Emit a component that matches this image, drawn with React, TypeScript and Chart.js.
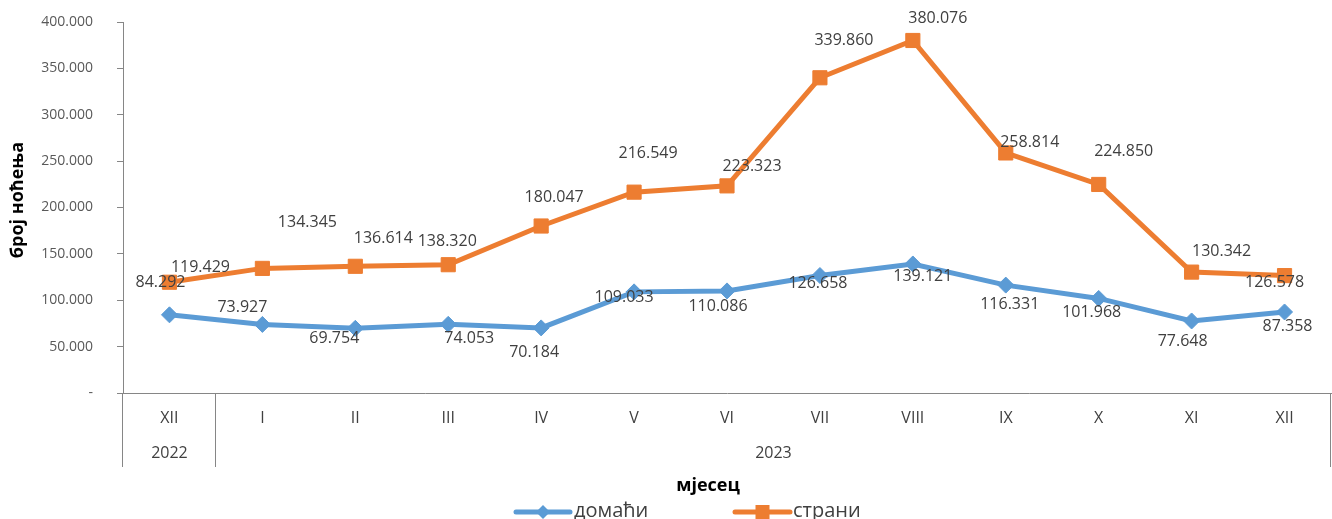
import React, { useEffect, useRef } from 'react';
import { Chart, registerables } from 'chart.js';

Chart.register(...registerables);

const months = ['XII', 'I', 'II', 'III', 'IV', 'V', 'VI', 'VII', 'VIII', 'IX', 'X', 'XI', 'XII'];
const yearLabels = ['2022', '2023'];
const yearMonthCounts = [1, 12];
const domaci = [84292, 73927, 69754, 74053, 70184, 109033, 110086, 126658, 139121, 116331, 101968, 77648, 87358];
const strani = [119429, 134345, 136614, 138320, 180047, 216549, 223323, 339860, 380076, 258814, 224850, 130342, 126578];
const seriesNames = ['домаћи', 'страни'];
const yTitle = 'број ноћења';
const xTitle = 'мјесец';

// label placement offsets (style only)
const domaciLabelOffsets = [[-9, -32], [-20, -17], [-21, 10], [21, 14], [-7, 25], [-10, 6], [-9, 16], [-2, 8], [10, 12], [4, 19], [-7, 14], [-9, 20], [3, 14]];
const straniLabelOffsets = [[31, -15], [45, -46], [28, -28], [-1, -23], [13, -29], [14, -39], [25, -19], [24, -37], [25, -22], [24, -11], [25, -33], [30, -21], [-10, 7]];

const BLUE = '#5B9BD5';
const ORANGE = '#ED7D31';
const AXIS = '#868686';
const TEXT = '#404040';
const FONT = '"Open Sans", "Noto Sans", sans-serif';

Chart.defaults.font.family = FONT;

const fmt = (v: number) => {
  if (v === 0) return '-';
  return Math.round(v).toString().replace(/\B(?=(\d{3})+(?!\d))/g, '.');
};

const decorPlugin = {
  id: 'decor',
  afterDatasetsDraw(chart: any) {
    const ctx = chart.ctx;
    const offs = [domaciLabelOffsets, straniLabelOffsets];
    ctx.save();
    ctx.font = `16px ${FONT}`;
    ctx.fillStyle = TEXT;
    ctx.textAlign = 'center';
    ctx.textBaseline = 'middle';
    chart.data.datasets.forEach((ds: any, di: number) => {
      const meta = chart.getDatasetMeta(di);
      meta.data.forEach((pt: any, i: number) => {
        const o = offs[di][i];
        ctx.fillText(fmt(ds.data[i]), pt.x + o[0], pt.y + o[1]);
      });
    });
    ctx.restore();
  },
  afterDraw(chart: any) {
    const ctx = chart.ctx;
    const area = chart.chartArea;
    const bottom = area.bottom + 74;
    const catW = (area.right - area.left) / months.length;
    ctx.save();
    ctx.strokeStyle = AXIS;
    ctx.lineWidth = 1;
    let idx = 0;
    const bounds: number[] = [area.left];
    yearMonthCounts.forEach((c) => {
      idx += c;
      bounds.push(area.left + catW * idx);
    });
    bounds.forEach((bx) => {
      const x = Math.round(bx) - 0.5;
      ctx.beginPath();
      ctx.moveTo(x, area.bottom);
      ctx.lineTo(x, bottom);
      ctx.stroke();
    });
    ctx.font = `16px ${FONT}`;
    ctx.fillStyle = TEXT;
    ctx.textAlign = 'center';
    ctx.textBaseline = 'middle';
    yearLabels.forEach((lab, k) => {
      ctx.fillText(lab, (bounds[k] + bounds[k + 1]) / 2, area.bottom + 60);
    });
    ctx.font = `bold 18px ${FONT}`;
    ctx.fillStyle = '#000000';
    ctx.fillText(xTitle, 708, 486);
    ctx.save();
    ctx.translate(18, 200);
    ctx.rotate(-Math.PI / 2);
    ctx.fillText(yTitle, 0, 0);
    ctx.restore();
    const items = [
      { name: seriesNames[0], color: BLUE, style: 'diamond', x0: 516, x1: 570, tx: 574 },
      { name: seriesNames[1], color: ORANGE, style: 'square', x0: 735, x1: 790, tx: 793 },
    ];
    const ly = 512;
    items.forEach((it) => {
      ctx.strokeStyle = it.color;
      ctx.lineWidth = 5;
      ctx.lineCap = 'round';
      ctx.beginPath();
      ctx.moveTo(it.x0, ly);
      ctx.lineTo(it.x1, ly);
      ctx.stroke();
      const cx = (it.x0 + it.x1) / 2;
      ctx.fillStyle = it.color;
      ctx.beginPath();
      if (it.style === 'diamond') {
        ctx.moveTo(cx, ly - 7);
        ctx.lineTo(cx + 7, ly);
        ctx.lineTo(cx, ly + 7);
        ctx.lineTo(cx - 7, ly);
        ctx.closePath();
      } else {
        ctx.rect(cx - 7, ly - 7, 14, 14);
      }
      ctx.fill();
      ctx.fillStyle = TEXT;
      ctx.font = `20px ${FONT}`;
      ctx.textAlign = 'left';
      ctx.textBaseline = 'middle';
      ctx.fillText(it.name, it.tx, ly - 1);
    });
    ctx.restore();
  },
};

export default function App() {
  const ref = useRef<HTMLCanvasElement>(null);
  useEffect(() => {
    if (!ref.current) return;
    const chart = new Chart(ref.current, {
      type: 'line',
      data: {
        labels: months,
        datasets: [
          {
            label: seriesNames[0],
            data: domaci,
            borderColor: BLUE,
            backgroundColor: BLUE,
            borderWidth: 5,
            pointStyle: 'rectRot',
            pointRadius: 8,
            pointBorderWidth: 1,
            pointBackgroundColor: BLUE,
            pointBorderColor: BLUE,
            tension: 0,
          },
          {
            label: seriesNames[1],
            data: strani,
            borderColor: ORANGE,
            backgroundColor: ORANGE,
            borderWidth: 5,
            pointStyle: 'rect',
            pointRadius: 10,
            pointBorderWidth: 1,
            pointBackgroundColor: ORANGE,
            pointBorderColor: ORANGE,
            tension: 0,
          },
        ],
      },
      options: {
        responsive: false,
        animation: false,
        layout: { autoPadding: false, padding: { top: 22, right: 1, left: 0, bottom: 0 } },
        plugins: {
          legend: { display: false },
          title: { display: false },
          tooltip: { enabled: false },
        },
        scales: {
          x: {
            type: 'category',
            offset: true,
            grid: { display: false, drawTicks: false },
            border: { display: true, color: AXIS, width: 1 },
            ticks: {
              font: { family: FONT, size: 16 },
              color: TEXT,
              padding: 16,
              maxRotation: 0,
              autoSkip: false,
            },
            afterFit: (s: any) => {
              s.height = 126;
              s.paddingLeft = 0;
              s.paddingRight = 0;
            },
          },
          y: {
            min: 0,
            max: 400000,
            grid: { display: true, drawOnChartArea: false, drawTicks: true, tickLength: 6, color: AXIS },
            border: { display: true, color: AXIS, width: 1 },
            ticks: {
              stepSize: 50000,
              font: { family: FONT, size: 14 },
              color: '#595959',
              padding: 24,
              callback: (v: any) => fmt(Number(v)),
            },
            afterFit: (s: any) => {
              s.width = 123;
              s.paddingTop = 0;
              s.paddingBottom = 0;
            },
          },
        },
      },
      plugins: [decorPlugin],
    });
    return () => chart.destroy();
  }, []);
  return (
    <div style={{ position: 'fixed', left: 0, top: 0, width: 1332, height: 519, background: '#fff' }}>
      <canvas ref={ref} width={1332} height={519} style={{ width: 1332, height: 519, display: 'block' }} />
    </div>
  );
}
